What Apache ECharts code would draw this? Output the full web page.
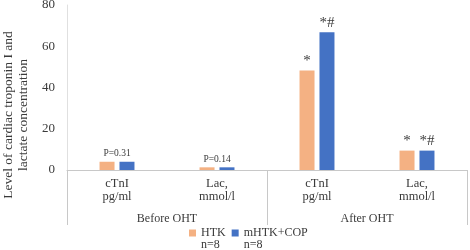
<!DOCTYPE html>
<html>
<head>
<meta charset="utf-8">
<script src="https://cdn.jsdelivr.net/npm/echarts@6/dist/echarts.min.js"></script>
<style>
html, body { margin: 0; padding: 0; background: #fff; }
#main { width: 470px; height: 250px; }
</style>
</head>
<body>
<div id="main"></div>
<script>
var categories = ['cTnI\npg/ml', 'Lac,\nmmol/l', 'cTnI\npg/ml', 'Lac,\nmmol/l'];
var groups = ['Before OHT', 'After OHT'];
var htkValues = [4.0, 1.3, 48.2, 9.4];
var copValues = [4.0, 1.3, 66.8, 9.4];
var htkMarks = ['P=0.31', 'P=0.14', '*', '*'];
var copMarks = ['', '', '*#', '*#'];
var yTicks = [0, 20, 40, 60, 80];

var serif = 'Liberation Serif';
var txt = '#3a3a3a';

var dom = document.getElementById('main');
var myChart = echarts.init(dom);

// per-bar annotation text; the P values sit centred over the pair
function buildData(values, marks) {
    return values.map(function (v, i) {
        var m = marks[i];
        var item = { value: v, label: { formatter: m } };
        if (m.indexOf('P=') === 0) {
            item.label.fontSize = 9.5;
            item.label.offset = [10, 0];
            item.label.distance = 3;
        }
        return item;
    });
}

var option = {
    animation: false,
    grid: { left: 67, right: 3, top: 5, bottom: 80, outerBoundsMode: 'none' },
    legend: {
        left: 189,
        top: 215,
        padding: 0,
        itemWidth: 7,
        itemHeight: 7,
        itemGap: 6,
        icon: 'rect',
        // leading blank line keeps the square level with the name
        formatter: '\n{name}\nn=8',
        textStyle: { fontFamily: serif, fontSize: 12, color: txt, lineHeight: 12 },
        data: ['HTK', 'mHTK+COP']
    },
    xAxis: [
        {
            type: 'category',
            data: categories,
            axisLine: { lineStyle: { color: '#c8c8c8' } },
            axisTick: { show: false },
            axisLabel: { fontFamily: serif, fontSize: 12.5, color: txt, lineHeight: 13, margin: 7, interval: 0 }
        },
        {
            type: 'category',
            data: groups,
            position: 'bottom',
            axisLine: { show: false },
            axisTick: { show: true, length: 55, interval: 0, lineStyle: { color: '#c8c8c8' } },
            axisLabel: { fontFamily: serif, fontSize: 12, color: txt, margin: 43 }
        }
    ],
    yAxis: {
        type: 'value',
        min: yTicks[0],
        max: yTicks[yTicks.length - 1],
        interval: 20,
        axisLine: { show: true, lineStyle: { color: '#e0e0e0' } },
        axisTick: { show: false },
        splitLine: { show: false },
        axisLabel: { fontFamily: serif, fontSize: 13, color: txt, margin: 12 },
        name: 'Level of cardiac troponin I and\nlactate concentration',
        nameLocation: 'middle',
        nameGap: 35,
        nameTextStyle: { fontFamily: serif, fontSize: 13.5, color: txt, lineHeight: 15, padding: [0, 55, 0, 0] }
    },
    series: [
        {
            name: 'HTK',
            type: 'bar',
            barWidth: 15,
            barGap: '33%',
            itemStyle: { color: '#F4B183' },
            label: { show: true, position: 'top', fontFamily: serif, fontSize: 15, color: txt, distance: 2 },
            data: buildData(htkValues, htkMarks)
        },
        {
            name: 'mHTK+COP',
            type: 'bar',
            barWidth: 15,
            itemStyle: { color: '#4472C4' },
            label: { show: true, position: 'top', fontFamily: serif, fontSize: 15, color: txt, distance: 2 },
            data: buildData(copValues, copMarks)
        }
    ]
};

myChart.setOption(option, true);
</script>
</body>
</html>
